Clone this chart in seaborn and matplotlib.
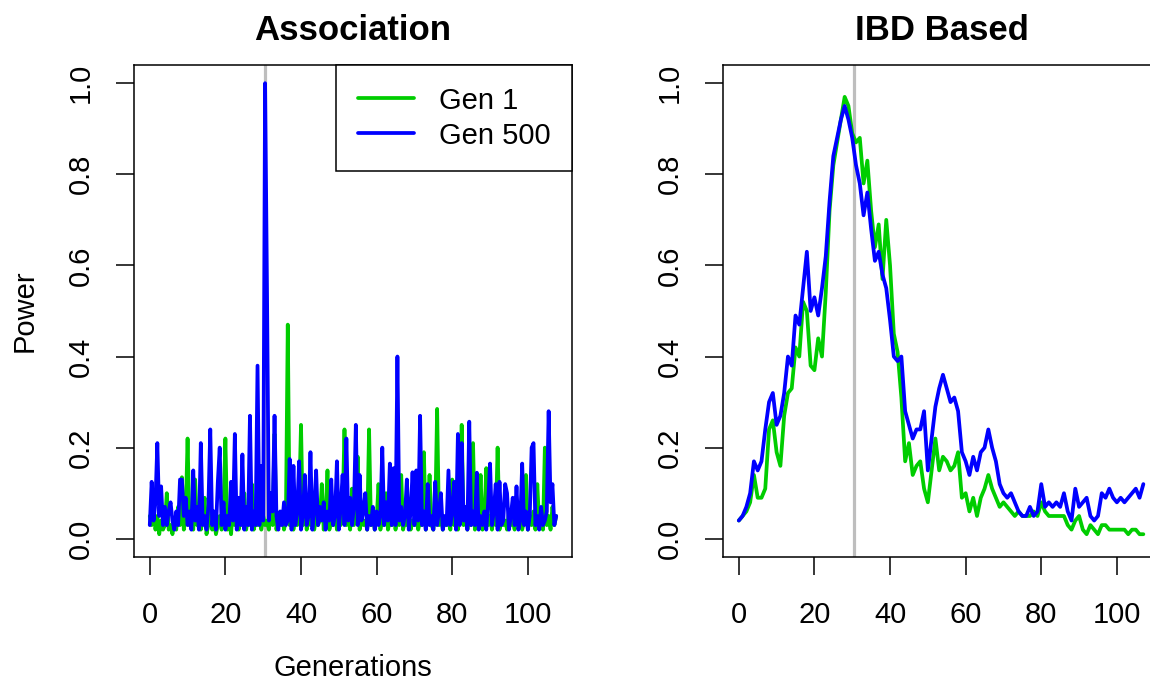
import numpy as np
import pandas as pd
import seaborn as sns
import matplotlib.pyplot as plt
from matplotlib.lines import Line2D
from matplotlib.ticker import FormatStrFormatter

# Association power, one value every 0.5 generations (0 .. 107.5)
assoc_gen1 = [
    0.05, 0.03, 0.07, 0.02, 0.05, 0.01, 0.04, 0.02, 0.03, 0.10,
    0.02, 0.03, 0.01, 0.04, 0.02, 0.07, 0.03, 0.135, 0.02, 0.05,
    0.22, 0.03, 0.06, 0.02, 0.13, 0.03, 0.05, 0.02, 0.04, 0.09,
    0.01, 0.03, 0.06, 0.02, 0.04, 0.01, 0.03, 0.05, 0.02, 0.06,
    0.22, 0.02, 0.04, 0.01, 0.07, 0.03, 0.05, 0.02, 0.04, 0.03,
    0.10, 0.02, 0.05, 0.03, 0.12, 0.02, 0.04, 0.03, 0.07, 0.02,
    0.05, 0.03, 0.04, 0.02, 0.08, 0.03, 0.23, 0.02, 0.05, 0.03,
    0.06, 0.02, 0.04, 0.47, 0.03, 0.06, 0.02, 0.05, 0.03, 0.08,
    0.25, 0.03, 0.12, 0.02, 0.06, 0.03, 0.04, 0.02, 0.05, 0.03,
    0.04, 0.12, 0.02, 0.05, 0.15, 0.02, 0.04, 0.03, 0.07, 0.02,
    0.05, 0.03, 0.06, 0.24, 0.03, 0.05, 0.02, 0.11, 0.03, 0.06,
    0.18, 0.02, 0.05, 0.03, 0.04, 0.02, 0.24, 0.03, 0.05, 0.02,
    0.04, 0.12, 0.02, 0.05, 0.03, 0.10, 0.02, 0.04, 0.03, 0.06,
    0.02, 0.05, 0.03, 0.14, 0.02, 0.04, 0.03, 0.06, 0.02, 0.04,
    0.03, 0.05, 0.02, 0.04, 0.03, 0.19, 0.02, 0.05, 0.14, 0.03,
    0.02, 0.05, 0.285, 0.03, 0.05, 0.02, 0.04, 0.03, 0.06, 0.02,
    0.13, 0.03, 0.05, 0.02, 0.06, 0.25, 0.03, 0.05, 0.02, 0.04,
    0.03, 0.21, 0.02, 0.05, 0.03, 0.14, 0.02, 0.04, 0.155, 0.03,
    0.05, 0.02, 0.06, 0.03, 0.20, 0.02, 0.05, 0.03, 0.04, 0.02,
    0.06, 0.03, 0.04, 0.02, 0.05, 0.03, 0.07, 0.02, 0.04, 0.14,
    0.02, 0.05, 0.03, 0.06, 0.02, 0.12, 0.03, 0.05, 0.02, 0.20,
    0.03, 0.05, 0.02, 0.07, 0.03, 0.05,
]
assoc_gen500 = [
    0.03, 0.125, 0.04, 0.08, 0.21, 0.05, 0.115, 0.03, 0.07, 0.03,
    0.06, 0.08, 0.04, 0.02, 0.06, 0.03, 0.13, 0.13, 0.05, 0.09,
    0.03, 0.06, 0.02, 0.15, 0.04, 0.07, 0.02, 0.21, 0.03, 0.05,
    0.02, 0.07, 0.24, 0.03, 0.06, 0.02, 0.125, 0.20, 0.03, 0.08,
    0.02, 0.05, 0.03, 0.125, 0.04, 0.23, 0.02, 0.09, 0.03, 0.185,
    0.02, 0.07, 0.03, 0.27, 0.02, 0.06, 0.03, 0.38, 0.03, 0.16,
    0.04, 1.00, 0.55, 0.04, 0.10, 0.06, 0.27, 0.05, 0.02, 0.06,
    0.03, 0.08, 0.03, 0.04, 0.175, 0.02, 0.16, 0.03, 0.06, 0.17,
    0.02, 0.05, 0.14, 0.03, 0.05, 0.19, 0.02, 0.06, 0.15, 0.03,
    0.07, 0.04, 0.08, 0.02, 0.06, 0.04, 0.13, 0.03, 0.05, 0.17,
    0.02, 0.07, 0.14, 0.03, 0.22, 0.04, 0.09, 0.03, 0.07, 0.25,
    0.03, 0.14, 0.04, 0.06, 0.10, 0.02, 0.05, 0.03, 0.07, 0.02,
    0.06, 0.03, 0.05, 0.20, 0.03, 0.08, 0.04, 0.165, 0.03, 0.155,
    0.03, 0.40, 0.04, 0.07, 0.03, 0.05, 0.13, 0.02, 0.06, 0.146,
    0.03, 0.15, 0.04, 0.27, 0.03, 0.06, 0.02, 0.12, 0.03, 0.05,
    0.02, 0.125, 0.03, 0.06, 0.10, 0.02, 0.05, 0.03, 0.15, 0.03,
    0.06, 0.125, 0.02, 0.23, 0.03, 0.21, 0.04, 0.07, 0.02, 0.257,
    0.03, 0.06, 0.03, 0.145, 0.02, 0.05, 0.03, 0.06, 0.02, 0.08,
    0.165, 0.03, 0.06, 0.12, 0.02, 0.125, 0.03, 0.04, 0.12, 0.10,
    0.02, 0.05, 0.09, 0.03, 0.115, 0.02, 0.04, 0.165, 0.03, 0.06,
    0.02, 0.05, 0.20, 0.21, 0.03, 0.05, 0.02, 0.07, 0.03, 0.04,
    0.06, 0.28, 0.08, 0.12, 0.03, 0.05,
]

# IBD based power, one value per generation (0 .. 107)
ibd_gen1 = [
    0.04, 0.05, 0.06, 0.08, 0.14, 0.09, 0.09, 0.11, 0.24, 0.26,
    0.19, 0.16, 0.27, 0.32, 0.33, 0.42, 0.40, 0.52, 0.50, 0.38,
    0.37, 0.44, 0.40, 0.54, 0.72, 0.82, 0.87, 0.92, 0.97, 0.95,
    0.89, 0.87, 0.88, 0.78, 0.83, 0.72, 0.64, 0.69, 0.57, 0.70,
    0.60, 0.45, 0.41, 0.31, 0.17, 0.21, 0.14, 0.16, 0.17, 0.11,
    0.08, 0.15, 0.22, 0.15, 0.18, 0.17, 0.15, 0.16, 0.19, 0.09,
    0.10, 0.06, 0.09, 0.05, 0.09, 0.11, 0.14, 0.11, 0.09, 0.07,
    0.08, 0.07, 0.06, 0.05, 0.06, 0.05, 0.05, 0.05, 0.06, 0.05,
    0.08, 0.06, 0.05, 0.05, 0.05, 0.05, 0.05, 0.03, 0.02, 0.04,
    0.05, 0.02, 0.01, 0.03, 0.02, 0.01, 0.03, 0.03, 0.02, 0.02,
    0.02, 0.02, 0.02, 0.01, 0.02, 0.02, 0.01, 0.01,
]
ibd_gen500 = [
    0.04, 0.05, 0.07, 0.10, 0.17, 0.15, 0.17, 0.24, 0.30, 0.32,
    0.25, 0.27, 0.32, 0.40, 0.38, 0.49, 0.47, 0.55, 0.63, 0.50,
    0.53, 0.49, 0.55, 0.62, 0.74, 0.84, 0.88, 0.92, 0.95, 0.92,
    0.88, 0.82, 0.78, 0.71, 0.76, 0.68, 0.61, 0.63, 0.58, 0.55,
    0.48, 0.40, 0.39, 0.40, 0.28, 0.25, 0.22, 0.24, 0.24, 0.28,
    0.15, 0.22, 0.29, 0.33, 0.36, 0.33, 0.30, 0.31, 0.28, 0.19,
    0.17, 0.14, 0.18, 0.15, 0.19, 0.20, 0.24, 0.20, 0.17, 0.12,
    0.10, 0.09, 0.10, 0.08, 0.06, 0.05, 0.05, 0.07, 0.05, 0.06,
    0.12, 0.07, 0.08, 0.07, 0.08, 0.07, 0.10, 0.06, 0.04, 0.11,
    0.07, 0.08, 0.09, 0.05, 0.04, 0.05, 0.10, 0.09, 0.11, 0.09,
    0.08, 0.09, 0.08, 0.09, 0.10, 0.11, 0.09, 0.12,
]

series_names = ['Gen 1', 'Gen 500']
colors = {'Gen 1': '#00CD00', 'Gen 500': '#0000FF'}
marker_gen = 30.6

# Long form tables for seaborn
assoc_step = 0.5
df_assoc = pd.concat([
    pd.DataFrame({'gen': np.arange(len(assoc_gen1)) * assoc_step, 'power': assoc_gen1, 'series': 'Gen 1'}),
    pd.DataFrame({'gen': np.arange(len(assoc_gen500)) * assoc_step, 'power': assoc_gen500, 'series': 'Gen 500'}),
])
df_ibd = pd.concat([
    pd.DataFrame({'gen': np.arange(len(ibd_gen1)), 'power': ibd_gen1, 'series': 'Gen 1'}),
    pd.DataFrame({'gen': np.arange(len(ibd_gen500)), 'power': ibd_gen500, 'series': 'Gen 500'}),
])

sns.set_style('white')
plt.rcParams['font.family'] = ['Liberation Sans', 'DejaVu Sans']
plt.rcParams['text.color'] = 'black'
plt.rcParams['axes.labelcolor'] = 'black'

fig = plt.figure(figsize=(11.5, 6.81), dpi=100)
ax1 = fig.add_axes([0.1161, 0.1821, 0.3817, 0.7225])
ax2 = fig.add_axes([0.6283, 0.1821, 0.3817, 0.7225])

fs = 21
lw = 2.7
for ax, df, title in [(ax1, df_assoc, 'Association'), (ax2, df_ibd, 'IBD Based')]:
    ax.axvline(marker_gen, color='#BEBEBE', lw=2.3, zorder=1)
    sns.lineplot(data=df, x='gen', y='power', hue='series', hue_order=series_names,
                 palette=colors, estimator=None, linewidth=lw, legend=False, ax=ax, zorder=2)
    ax.set_xlim(-4.3, 111.8)
    ax.set_ylim(-0.04, 1.04)
    ax.set_xticks([0, 20, 40, 60, 80, 100])
    ax.set_yticks([0, 0.2, 0.4, 0.6, 0.8, 1.0])
    ax.yaxis.set_major_formatter(FormatStrFormatter('%.1f'))
    ax.tick_params(axis='both', direction='out', length=13, width=1.1, color='black',
                   labelsize=fs, labelcolor='black', bottom=True, left=True)
    ax.tick_params(axis='x', pad=18.5)
    ax.tick_params(axis='y', pad=15, labelrotation=90)
    for lab in ax.get_yticklabels():
        lab.set_va('center')
    for sp in ax.spines.values():
        sp.set_visible(True)
        sp.set_color('black')
        sp.set_linewidth(1.1)
    ax.set_xlabel('')
    ax.set_ylabel('')
    ax.set_title(title, fontsize=25, fontweight='bold', y=1.07, va='center', pad=0)

# Axis labels only on the left panel
ax1.set_xlabel('Generations', fontsize=fs)
ax1.xaxis.set_label_coords(0.5, -0.2256)
ax1.xaxis.label.set_va('center')
ax1.set_ylabel('Power', fontsize=fs)
ax1.yaxis.set_label_coords(-0.247, 0.5)
ax1.yaxis.label.set_va('center')

handles = [Line2D([0], [0], color=colors[s], lw=lw) for s in series_names]
leg = ax1.legend(handles, series_names, loc='upper right', borderaxespad=0, frameon=True,
                 fancybox=False, edgecolor='black', framealpha=1, fontsize=fs,
                 handlelength=1.95, handletextpad=0.85, borderpad=0.74, labelspacing=0.24)
leg.get_frame().set_linewidth(1.1)

fig.savefig('out.png', dpi=100)
